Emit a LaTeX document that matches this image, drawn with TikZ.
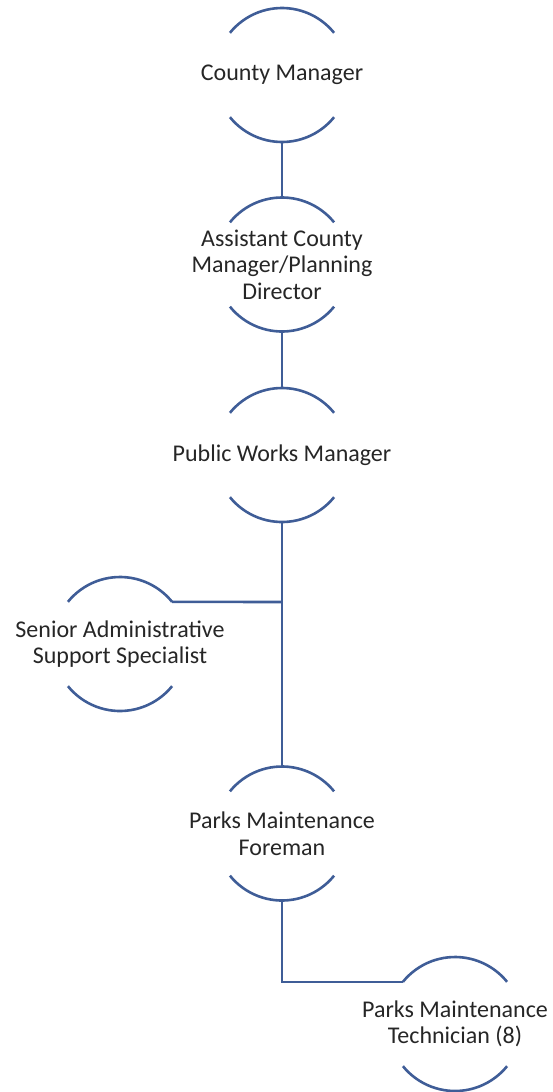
\documentclass[tikz,border=0pt]{standalone}
\usepackage{fontspec}
\setmainfont{Carlito}
\definecolor{linecol}{HTML}{3F5D97}
\definecolor{txtcol}{HTML}{262626}
\begin{document}
\begin{tikzpicture}[x=1pt,y=-1pt,
  lbl/.style={align=center,text=txtcol,font=\fontsize{24}{26.5}\selectfont,inner sep=0pt},
  conn/.style={draw=linecol,line width=2.6pt},
  halfarc/.style={draw=linecol,line width=2.6pt}]
\useasboundingbox (0,0) rectangle (553,1092);
% nodes at circle centres
\node[lbl] (cm) at (282,75) {County Manager};
\node[lbl] (acm) at (282,264.5) {Assistant County\\Manager/Planning\\Director};
\node[lbl] (pwm) at (282,455) {Public Works Manager};
\node[lbl] (sas) at (120,644) {Senior Administrative\\Support Specialist};
\node[lbl] (pmf) at (282,833.5) {Parks Maintenance\\Foreman};
\node[lbl] (pmt) at (455,1024) {Parks Maintenance\\Technician (8)};
% arcs (top and bottom) around each node
\foreach \n in {cm,acm,pwm,sas,pmf,pmt}{
  \draw[halfarc] ([shift={(141:67pt)}]\n.center) arc[start angle=141,end angle=39,radius=67pt];
  \draw[halfarc] ([shift={(-141:67pt)}]\n.center) arc[start angle=-141,end angle=-39,radius=67pt];
}
% connectors
\draw[conn] ([yshift=-67pt]cm.center) -- ([yshift=67pt]acm.center);
\draw[conn] ([yshift=-67pt]acm.center) -- ([yshift=67pt]pwm.center);
\draw[conn] ([yshift=-67pt]pwm.center) -- ([yshift=67pt]pmf.center);
\coordinate (br) at (282,602);
\draw[conn] (br) -- ([shift={(39:67pt)}]sas.center);
\draw[conn] ([yshift=-67pt]pmf.center) |- ([shift={(141:67pt)}]pmt.center);
\end{tikzpicture}
\end{document}
